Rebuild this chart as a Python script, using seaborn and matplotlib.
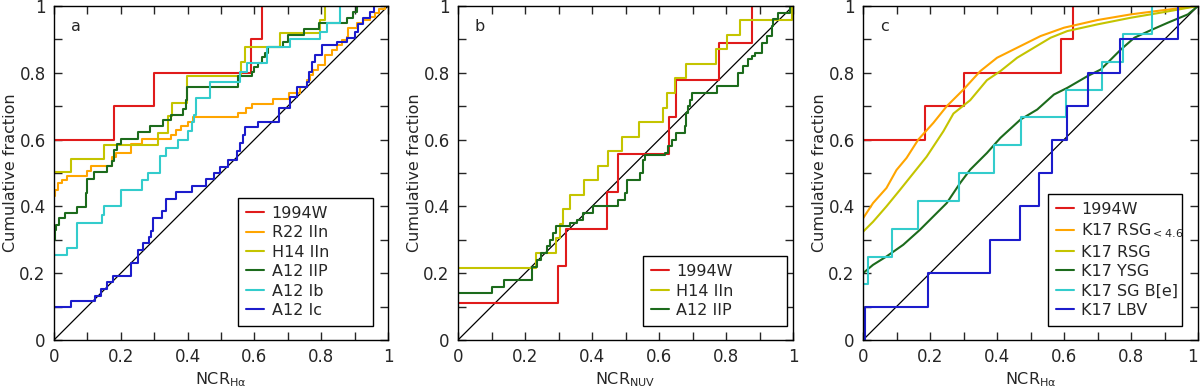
import numpy as np
import pandas as pd
import matplotlib
matplotlib.use("Agg")
import matplotlib.pyplot as plt
import seaborn as sns

sns.set_style("ticks")
plt.rcParams['font.family'] = ['DejaVu Sans']
plt.rcParams['mathtext.fontset'] = 'dejavusans'

# ---------------- data (cumulative step curves: x = NCR value, y = fraction after step) -------------
# Panel a
a_1994W_x = [0, 0.18, 0.30, 0.589, 0.624]
a_1994W_y = [0.6, 0.7, 0.8, 0.9, 1.0]

a_R22_x = [0, 0.002, 0.012, 0.025, 0.04, 0.1, 0.11, 0.175, 0.185, 0.23, 0.264, 0.35, 0.364, 0.38, 0.4,
           0.417, 0.55, 0.575, 0.592, 0.655, 0.705, 0.736, 0.756, 0.766, 0.776, 0.791, 0.811, 0.831,
           0.846, 0.861, 0.876, 0.881, 0.906, 0.926, 0.946, 0.961, 0.972, 0.99]
a_R22_y = [0.43, 0.45, 0.47, 0.48, 0.492, 0.507, 0.52, 0.548, 0.56, 0.588, 0.602, 0.615, 0.628, 0.642,
           0.652, 0.667, 0.679, 0.694, 0.707, 0.721, 0.739, 0.757, 0.779, 0.793, 0.808, 0.823, 0.853,
           0.868, 0.883, 0.898, 0.908, 0.933, 0.948, 0.958, 0.968, 0.978, 0.99, 1.0]

a_H14_x = [0, 0.05, 0.15, 0.311, 0.341, 0.354, 0.398, 0.559, 0.572, 0.677, 0.796, 0.811]
a_H14_y = [0.502, 0.542, 0.583, 0.621, 0.672, 0.71, 0.79, 0.833, 0.876, 0.918, 0.958, 1.0]

a_IIP_x = [0, 0.003, 0.005, 0.015, 0.032, 0.068, 0.097, 0.1, 0.12, 0.158, 0.173, 0.18, 0.19, 0.202,
           0.251, 0.287, 0.327, 0.35, 0.387, 0.394, 0.397, 0.552, 0.592, 0.6, 0.612, 0.622, 0.632,
           0.642, 0.687, 0.7, 0.748, 0.792, 0.876, 0.896, 0.906]
a_IIP_y = [0.3, 0.33, 0.345, 0.365, 0.38, 0.398, 0.44, 0.482, 0.502, 0.52, 0.535, 0.57, 0.588, 0.602,
           0.622, 0.64, 0.658, 0.675, 0.692, 0.72, 0.756, 0.79, 0.803, 0.818, 0.83, 0.846, 0.858,
           0.878, 0.893, 0.913, 0.93, 0.948, 0.963, 0.983, 1.0]

a_Ib_x = [0, 0.038, 0.07, 0.145, 0.15, 0.202, 0.264, 0.282, 0.317, 0.334, 0.372, 0.4, 0.414, 0.42,
          0.425, 0.467, 0.557, 0.577, 0.637, 0.706, 0.796, 0.816, 0.856]
a_Ib_y = [0.253, 0.276, 0.35, 0.375, 0.4, 0.45, 0.478, 0.5, 0.55, 0.575, 0.6, 0.625, 0.652, 0.675,
          0.724, 0.773, 0.803, 0.828, 0.876, 0.9, 0.923, 0.948, 1.0]

a_Ic_x = [0, 0.052, 0.122, 0.142, 0.158, 0.177, 0.23, 0.252, 0.266, 0.284, 0.29, 0.297, 0.324, 0.334,
          0.364, 0.412, 0.455, 0.478, 0.497, 0.522, 0.547, 0.557, 0.565, 0.572, 0.612, 0.674, 0.707,
          0.729, 0.757, 0.762, 0.772, 0.782, 0.802, 0.846, 0.876, 0.901, 0.911, 0.926, 0.946, 0.958]
a_Ic_y = [0.098, 0.116, 0.133, 0.153, 0.173, 0.193, 0.231, 0.269, 0.289, 0.309, 0.326, 0.365, 0.385,
          0.423, 0.442, 0.462, 0.481, 0.5, 0.519, 0.539, 0.566, 0.589, 0.614, 0.637, 0.654, 0.696,
          0.728, 0.757, 0.773, 0.803, 0.833, 0.853, 0.883, 0.893, 0.903, 0.923, 0.946, 0.963, 0.983, 1.0]

# Panel b
b_1994W_x = [0, 0.298, 0.321, 0.444, 0.479, 0.63, 0.65, 0.78, 0.877]
b_1994W_y = [0.111, 0.222, 0.333, 0.444, 0.556, 0.667, 0.778, 0.889, 1.0]

b_H14_x = [0, 0.232, 0.294, 0.304, 0.314, 0.334, 0.377, 0.419, 0.449, 0.49, 0.541, 0.613, 0.623,
           0.648, 0.681, 0.77, 0.804, 0.842, 0.997]
b_H14_y = [0.217, 0.261, 0.304, 0.348, 0.391, 0.435, 0.478, 0.522, 0.565, 0.609, 0.652, 0.696, 0.739,
           0.783, 0.826, 0.87, 0.913, 0.957, 1.0]

b_IIP_x = [0, 0.102, 0.138, 0.222, 0.235, 0.248, 0.265, 0.275, 0.285, 0.294, 0.334, 0.354, 0.374,
           0.404, 0.479, 0.498, 0.503, 0.543, 0.553, 0.558, 0.618, 0.628, 0.638, 0.652, 0.677, 0.682,
           0.688, 0.693, 0.698, 0.772, 0.837, 0.852, 0.867, 0.877, 0.887, 0.906, 0.921, 0.936, 0.941,
           0.956, 0.991]
b_IIP_y = [0.14, 0.16, 0.18, 0.22, 0.24, 0.26, 0.28, 0.30, 0.32, 0.34, 0.35, 0.36, 0.38, 0.40, 0.42,
           0.44, 0.48, 0.50, 0.54, 0.555, 0.56, 0.58, 0.60, 0.62, 0.64, 0.68, 0.70, 0.72, 0.74, 0.76,
           0.80, 0.82, 0.84, 0.85, 0.86, 0.89, 0.91, 0.94, 0.96, 0.98, 1.0]

# Panel c
c_1994W_x = [0, 0.185, 0.301, 0.59, 0.626]
c_1994W_y = [0.6, 0.7, 0.8, 0.9, 1.0]

c_RSG46_x = [0, 0.03, 0.07, 0.1, 0.13, 0.165, 0.21, 0.25, 0.3, 0.35, 0.4, 0.47, 0.53, 0.6, 0.7, 0.8, 0.9, 1.0]
c_RSG46_y = [0.364, 0.41, 0.455, 0.509, 0.545, 0.6, 0.65, 0.7, 0.75, 0.805, 0.845, 0.88, 0.91, 0.935,
             0.958, 0.975, 0.988, 1.0]

c_RSG_x = [0, 0.03, 0.07, 0.11, 0.15, 0.19, 0.24, 0.27, 0.32, 0.37, 0.41, 0.46, 0.51, 0.56, 0.61, 0.7,
           0.8, 0.9, 1.0]
c_RSG_y = [0.324, 0.354, 0.4, 0.449, 0.499, 0.549, 0.625, 0.678, 0.718, 0.778, 0.805, 0.845, 0.875,
           0.905, 0.925, 0.945, 0.965, 0.982, 1.0]

c_YSG_x = [0, 0.03, 0.07, 0.12, 0.17, 0.22, 0.25, 0.29, 0.32, 0.37, 0.41, 0.47, 0.52, 0.57, 0.61, 0.67,
           0.71, 0.77, 0.81, 0.86, 0.91, 0.97, 1.0]
c_YSG_y = [0.2, 0.225, 0.25, 0.285, 0.33, 0.38, 0.41, 0.47, 0.51, 0.56, 0.605, 0.66, 0.69, 0.735,
           0.755, 0.79, 0.81, 0.87, 0.905, 0.928, 0.95, 0.975, 1.0]

c_SGBe_x = [0, 0.016, 0.086, 0.163, 0.287, 0.391, 0.472, 0.606, 0.713, 0.776, 0.862]
c_SGBe_y = [0.167, 0.25, 0.333, 0.417, 0.5, 0.583, 0.667, 0.75, 0.833, 0.917, 1.0]

c_LBV_x = [0, 0.005, 0.193, 0.379, 0.469, 0.526, 0.563, 0.608, 0.673, 0.766, 0.94]
c_LBV_y = [0, 0.1, 0.2, 0.3, 0.4, 0.5, 0.6, 0.7, 0.8, 0.9, 1.0]

diag_x = [0, 1]
diag_y = [0, 1]

tick_vals = [0, 0.2, 0.4, 0.6, 0.8, 1.0]
tick_labels = ["0", "0.2", "0.4", "0.6", "0.8", "1"]

# ---------------- style -------------
C_RED = "#e01b1b"
C_ORANGE = "#ffa500"
C_YEL = "#c4c400"
C_DGREEN = "#1c6b1c"
C_CYAN = "#33cccc"
C_BLUE = "#1c1ccc"

FS_TICK = 12
FS_LAB = 11.5
FS_LEG = 11.5

fig = plt.figure(figsize=(12, 3.89), dpi=100)
axes = [fig.add_axes([54/1200, 49/389, 334/1200, 334/389]),
        fig.add_axes([458/1200, 49/389, 335/1200, 334/389]),
        fig.add_axes([863/1200, 49/389, 335/1200, 334/389])]


def step(ax, x, y, color, label, steps=True):
    df = pd.DataFrame({"x": x, "y": y})
    kw = dict(drawstyle="steps-post") if steps else {}
    sns.lineplot(data=df, x="x", y="y", ax=ax, color=color, lw=1.5, label=label,
                 sort=False, estimator=None, **kw)


panels = [
    ("a", r"NCR$_{\mathregular{H\alpha}}$", [
        (a_1994W_x, a_1994W_y, C_RED, "1994W", True),
        (a_R22_x, a_R22_y, C_ORANGE, "R22 IIn", True),
        (a_H14_x, a_H14_y, C_YEL, "H14 IIn", True),
        (a_IIP_x, a_IIP_y, C_DGREEN, "A12 IIP", True),
        (a_Ib_x, a_Ib_y, C_CYAN, "A12 Ib", True),
        (a_Ic_x, a_Ic_y, C_BLUE, "A12 Ic", True),
    ], (0.551, 0.042, 0.403, 0.39)),
    ("b", r"NCR$_{\mathregular{NUV}}$", [
        (b_1994W_x, b_1994W_y, C_RED, "1994W", True),
        (b_H14_x, b_H14_y, C_YEL, "H14 IIn", True),
        (b_IIP_x, b_IIP_y, C_DGREEN, "A12 IIP", True),
    ], (0.551, 0.042, 0.43, 0.22)),
    ("c", r"NCR$_{\mathregular{H\alpha}}$", [
        (c_1994W_x, c_1994W_y, C_RED, "1994W", True),
        (c_RSG46_x, c_RSG46_y, C_ORANGE, r"K17 RSG$_{<4.6}$", False),
        (c_RSG_x, c_RSG_y, C_YEL, "K17 RSG", False),
        (c_YSG_x, c_YSG_y, C_DGREEN, "K17 YSG", False),
        (c_SGBe_x, c_SGBe_y, C_CYAN, "K17 SG B[e]", True),
        (c_LBV_x, c_LBV_y, C_BLUE, "K17 LBV", True),
    ], (0.551, 0.042, 0.40, 0.39)),
]

for i, (ax, (letter, xlabel, series, anchor)) in enumerate(zip(axes, panels)):
    sns.lineplot(x=diag_x, y=diag_y, ax=ax, color="black", lw=0.9)
    for x, y, col, lab, st in series:
        step(ax, x, y, col, lab, st)
    ax.set_xlim(0, 1)
    ax.set_ylim(0, 1)
    ax.set_xticks(tick_vals)
    ax.set_xticklabels(tick_labels)
    ax.set_yticks(tick_vals)
    ax.set_yticklabels(tick_labels)
    ax.set_xticks(np.arange(0.1, 1.0, 0.2), minor=True)
    ax.set_yticks(np.arange(0.1, 1.0, 0.2), minor=True)
    ax.tick_params(which="both", direction="in", top=True, right=True, length=5.5, width=1.0,
                   labelsize=FS_TICK, pad=6)
    for s in ax.spines.values():
        s.set_linewidth(1.0)
        s.set_color("black")
    ax.set_xlabel(xlabel, fontsize=FS_LAB, labelpad=3)
    ax.set_ylabel("Cumulative fraction", fontsize=FS_LAB, labelpad=1)
    ax.text(0.05, 0.94, letter, transform=ax.transAxes, fontsize=FS_LAB, ha="left", va="center")
    leg = ax.legend(loc="lower left", bbox_to_anchor=anchor, mode="expand", borderaxespad=0,
                    fontsize=FS_LEG, frameon=True, fancybox=False, edgecolor="black", framealpha=1,
                    handlelength=1.15, handletextpad=0.45, labelspacing=0.28, borderpad=0.5)
    leg.get_frame().set_linewidth(1.0)
    for h in leg.get_lines():
        h.set_linewidth(1.5)
    if i == 2:
        ax.get_xticklabels()[-1].set_horizontalalignment("right")

fig.savefig("out.png", dpi=100)
